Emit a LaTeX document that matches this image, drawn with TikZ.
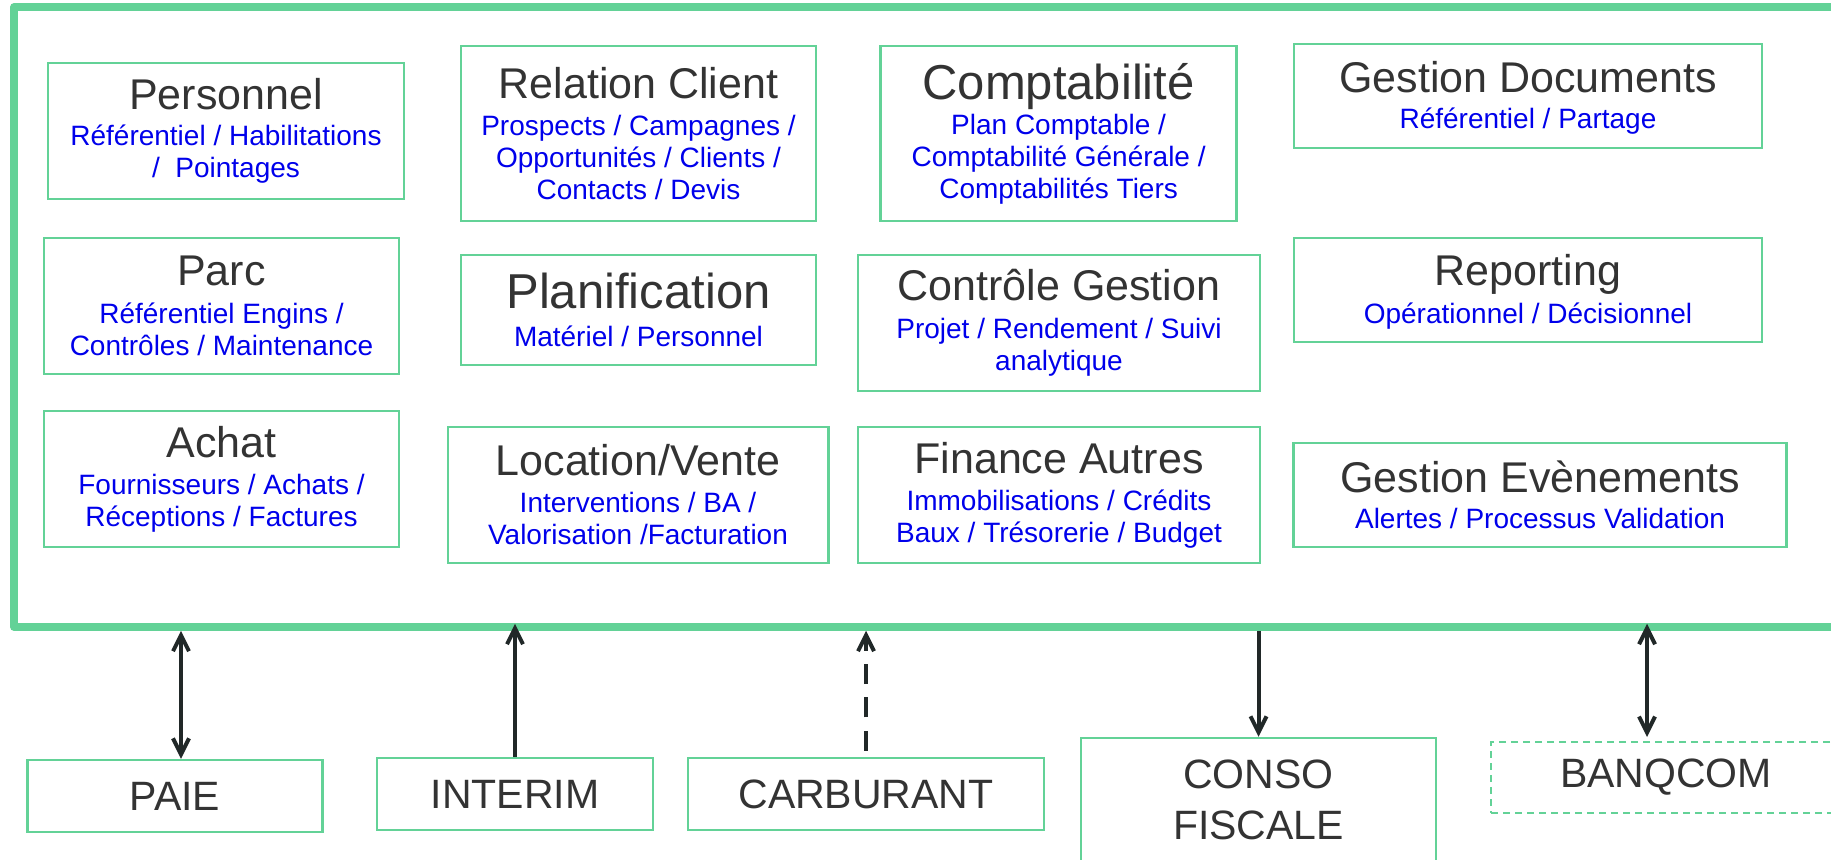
\documentclass[tikz,border=0pt]{standalone}
\usepackage{fontspec}
\setmainfont{Liberation Sans}
\usetikzlibrary{arrows.meta}
\definecolor{vert}{RGB}{99,210,151}
\definecolor{gristxt}{RGB}{51,51,51}
\definecolor{bleutxt}{RGB}{0,0,235}
\definecolor{fleche}{RGB}{33,40,40}
\newcommand{\titre}[2][2.5pt]{{\color{gristxt}\fontsize{21.5}{21.5}\selectfont #2}\\[#1]}
\newcommand{\grandtitre}[2][2.5pt]{{\color{gristxt}\fontsize{24.5}{24.5}\selectfont #2}\\[#1]}
\tikzset{
  module/.style={draw=vert, line width=1.25pt, align=center, text=bleutxt, inner sep=0pt,
    font=\fontsize{14}{16}\selectfont},
  externe/.style={draw=vert, line width=1.25pt, align=center, text=gristxt, inner sep=0pt,
    font=\fontsize{20.5}{25.8}\selectfont},
  cadre/.style={draw=vert, line width=3.75pt, line join=round, inner sep=0pt},
  lien/.style={draw=fleche, line width=2pt},
}
\begin{document}
\begin{tikzpicture}[x=0.5pt, y=-0.5pt, >={Straight Barb[length=8pt,width=8pt]}]
\path[use as bounding box, clip] (0,0) rectangle (1831,859);
% cadre principal
\node[cadre, minimum width=918pt, minimum height=310pt] (sys) at (932,317) {};

% modules
\node[module, minimum width=178pt, minimum height=68pt] (pers) at (226,131)
  {\titre[1.8pt]{Personnel}Référentiel / Habilitations\\/\ \ Pointages};
\node[module, minimum width=177.5pt, minimum height=68pt] (parc) at (221.5,306)
  {\titre[3pt]{Parc}Référentiel Engins /\\Contrôles / Maintenance};
\node[module, minimum width=177.5pt, minimum height=68pt] (achat) at (221.5,479)
  {\titre{Achat}Fournisseurs / Achats /\\Réceptions / Factures};
\node[module, minimum width=177.5pt, minimum height=87.5pt] (relcli) at (638.5,133.5)
  {\titre[2.9pt]{Relation Client}Prospects / Campagnes /\\Opportunités / Clients /\\Contacts / Devis};
\node[module, minimum width=177.5pt, minimum height=55pt] (planif) at (638.5,310)
  {\grandtitre[3pt]{Planification}Matériel / Personnel};
\node[module, minimum width=190.25pt, minimum height=68pt] (locvente) at (638,495)
  {\titre{Location/Vente}Interventions / BA /\\Valorisation /Facturation};
\node[module, minimum width=178pt, minimum height=87.5pt] (compta) at (1058.6,133.5)
  {\grandtitre[1.5pt]{Comptabilité}Plan Comptable /\\Comptabilité Générale /\\Comptabilités Tiers};
\node[module, minimum width=201pt, minimum height=68pt] (ctrlgest) at (1059,323)
  {\titre[3pt]{Contrôle Gestion}Projet / Rendement / Suivi\\analytique};
\node[module, minimum width=201pt, minimum height=68pt] (finaut) at (1059,495)
  {\titre{Finance Autres}Immobilisations / Crédits\\Baux / Trésorerie / Budget};
\node[module, minimum width=234pt, minimum height=52pt, text depth=1pt] (gestdoc) at (1528,96)
  {\titre[2pt]{Gestion Documents}Référentiel / Partage};
\node[module, minimum width=234pt, minimum height=52pt, text depth=1pt] (report) at (1528,290)
  {\titre[3pt]{Reporting}Opérationnel / Décisionnel};
\node[module, minimum width=246.5pt, minimum height=52pt] (gestevt) at (1540,495)
  {\titre[2pt]{Gestion Evènements}Alertes / Processus Validation};

% applications externes
\node[externe, minimum width=147.5pt, minimum height=36pt] (paie) at (175,796) {PAIE};
\node[externe, minimum width=138pt, minimum height=36pt] (interim) at (515,794) {INTERIM};
\node[externe, minimum width=178pt, minimum height=36pt] (carbu) at (866,794) {CARBURANT};
\node[externe, minimum width=177.5pt, minimum height=62pt] (conso) at (1258.5,800) {CONSO\\FISCALE};
\node[externe, dash pattern=on 3.5pt off 2.5pt, line width=1pt, minimum width=175pt, minimum height=35.5pt] (banq) at (1666,777.5) {BANQCOM};

% flux
\coordinate (pb) at ([xshift=3pt]paie.north);
\coordinate (bb) at ([xshift=-9.5pt]banq.north);
\draw[lien, <->] (pb) -- (pb |- sys.south);
\draw[lien, ->, shorten >=-3.5pt] (interim.north) -- (interim.north |- sys.south);
\draw[lien, ->, dash pattern=on 10pt off 6.67pt, shorten <=3pt] (carbu.north) -- (carbu.north |- sys.south);
\draw[lien, ->] (conso.north |- sys.south) -- (conso.north);
\draw[lien, <->, shorten >=-3.5pt, shorten <=2pt] (bb) -- (bb |- sys.south);
\end{tikzpicture}
\end{document}
